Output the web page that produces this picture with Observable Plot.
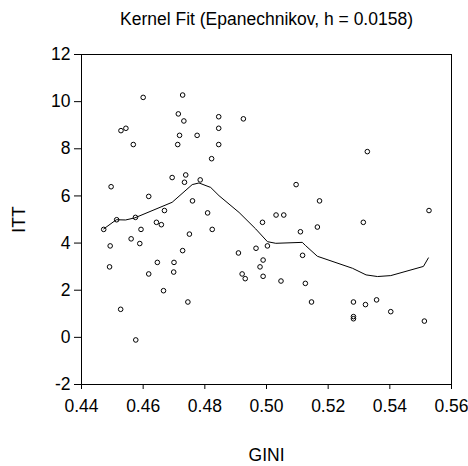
<!DOCTYPE html>
<html>
<head>
<meta charset="utf-8">
<script src="https://cdn.jsdelivr.net/npm/d3@7"></script>
<script src="https://cdn.jsdelivr.net/npm/@observablehq/plot@0.6"></script>
<style>
  html, body { margin: 0; padding: 0; background: #fff; }
</style>
</head>
<body>
<div id="chart"></div>
<script>
const title = "Kernel Fit (Epanechnikov, h = 0.0158)";
const xLabel = "GINI";
const yLabel = "ITT";

const gini = [
  0.4472, 0.4496, 0.4514, 0.4528, 0.4544, 0.4568, 0.4600, 0.4575, 0.4593, 0.4561,
  0.4618, 0.4643, 0.4659, 0.4669, 0.4694, 0.4714, 0.4728, 0.4732, 0.4718, 0.4712,
  0.4775, 0.4738, 0.4734, 0.4785, 0.4760, 0.4809, 0.4824, 0.4750, 0.4845, 0.4845,
  0.4845, 0.4822, 0.4925, 0.5327, 0.5096, 0.5172, 0.5031, 0.5056, 0.4987, 0.5527,
  0.5314, 0.5110, 0.5165, 0.4966, 0.5003, 0.4989, 0.4979, 0.4989, 0.4921, 0.4931,
  0.5047, 0.5117, 0.5126, 0.5146, 0.5282, 0.5321, 0.5357, 0.5403, 0.5282, 0.5282,
  0.5512, 0.4493, 0.4491, 0.4527, 0.4576, 0.4589, 0.4646, 0.4618, 0.4666, 0.4700,
  0.4699, 0.4728, 0.4745, 0.4909
];
const itt = [
  4.58, 6.39, 4.99, 8.77, 8.87, 8.18, 10.18, 5.09, 4.58, 4.18,
  5.98, 4.88, 4.78, 5.38, 6.78, 9.48, 10.28, 9.18, 8.57, 8.18,
  8.57, 6.89, 6.58, 6.68, 5.79, 5.28, 4.58, 4.38, 9.36, 8.87,
  8.18, 7.58, 9.27, 7.88, 6.48, 5.79, 5.19, 5.19, 4.88, 5.38,
  4.88, 4.48, 4.68, 3.78, 3.88, 3.28, 2.99, 2.59, 2.69, 2.49,
  2.39, 3.48, 2.29, 1.50, 1.50, 1.39, 1.59, 1.09, 0.88, 0.79,
  0.69, 3.88, 2.99, 1.19, -0.11, 3.98, 3.18, 2.69, 1.98, 3.18,
  2.77, 3.68, 1.50, 3.58
];

const fitX = [0.4472, 0.4513, 0.4543, 0.4573, 0.4694, 0.4759, 0.4781, 0.4819, 0.4846, 0.4911,
              0.4965, 0.5003, 0.5030, 0.5116, 0.5127, 0.5165, 0.5279, 0.5323, 0.5360, 0.5403,
              0.5509, 0.5525];
const fitY = [4.60, 4.99, 4.98, 5.07, 5.73, 6.48, 6.55, 6.36, 6.01, 5.30,
              4.60, 4.06, 3.99, 4.03, 3.89, 3.44, 2.93, 2.65, 2.58, 2.62,
              3.01, 3.37];

const xTicks = [0.44, 0.46, 0.48, 0.50, 0.52, 0.54, 0.56];
const yTicks = [-2, 0, 2, 4, 6, 8, 10, 12];

const points = gini.map((g, i) => ({g, v: itt[i]}));
const fit = fitX.map((g, i) => ({g, v: fitY[i]}));

const fs = 17.5;

const chart = Plot.plot({
  width: 468,
  height: 466,
  marginLeft: 81,
  marginRight: 17,
  marginTop: 54,
  marginBottom: 82,
  style: {fontFamily: "'Liberation Sans', Arial, sans-serif", fontSize: fs + "px", color: "#000", background: "#fff"},
  x: {domain: [0.44, 0.56]},
  y: {domain: [-2, 12]},
  marks: [
    Plot.frame({stroke: "#000", strokeWidth: 1}),
    Plot.axisX({ticks: xTicks, tickFormat: d3.format(".2f"), tickSize: 5, tickPadding: 10,
      label: xLabel, labelAnchor: "center", labelArrow: "none", labelOffset: 76, fontSize: fs}),
    Plot.axisY({ticks: yTicks, tickFormat: d => String(d), tickSize: 7, tickPadding: 4,
      label: yLabel, labelAnchor: "center", labelArrow: "none", labelOffset: 69, fontSize: fs}),
    Plot.dot(points, {x: "g", y: "v", r: 2.3, stroke: "#000", strokeWidth: 1, fill: "none"}),
    Plot.line(fit, {x: "g", y: "v", stroke: "#000", strokeWidth: 1}),
    Plot.text([title], {frameAnchor: "top", dy: -30, lineAnchor: "bottom", fontSize: fs, fill: "#000"})
  ]
});
document.getElementById("chart").appendChild(chart);
</script>
</body>
</html>
